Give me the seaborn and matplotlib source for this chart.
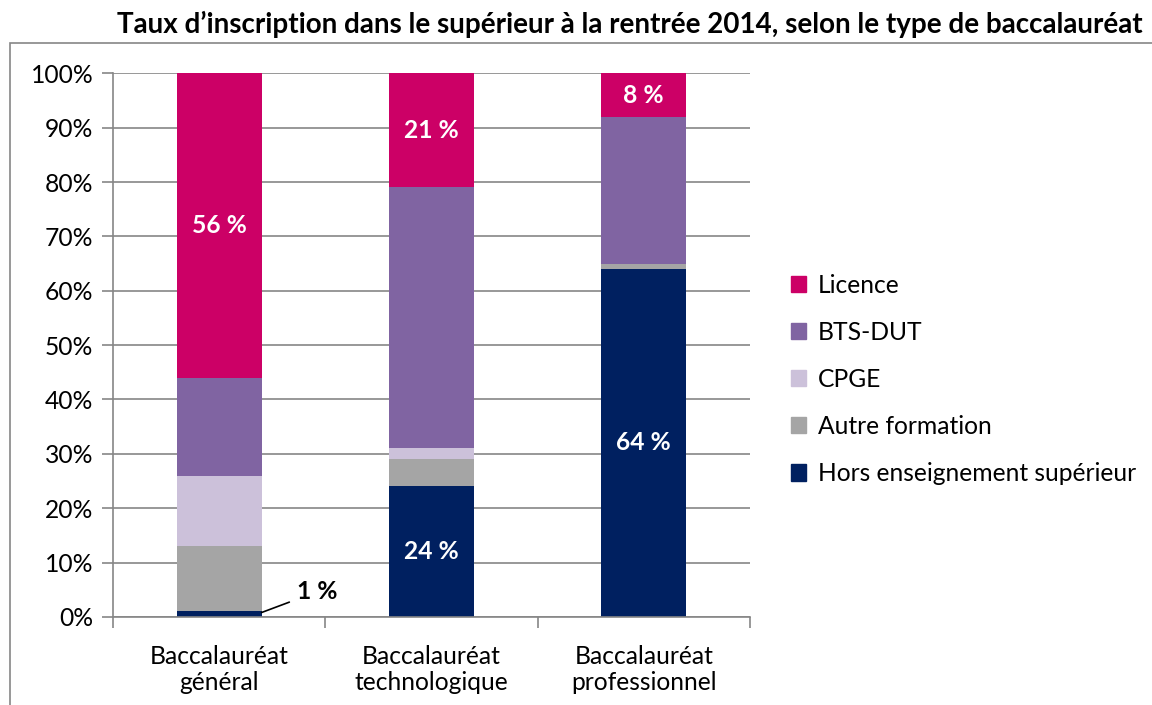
import matplotlib
matplotlib.use("Agg")
import matplotlib.pyplot as plt
import matplotlib.patches as mpatches
import pandas as pd
import seaborn as sns

# Data (percent)
categories = ["Baccalauréat\ngénéral", "Baccalauréat\ntechnologique", "Baccalauréat\nprofessionnel"]
series = ["Hors enseignement supérieur", "Autre formation", "CPGE", "BTS-DUT", "Licence"]
hors = [1, 24, 64]
autre = [12, 5, 1]
cpge = [13, 2, 0]
bts = [18, 48, 27]
licence = [56, 21, 8]
colors = ["#002060", "#A5A5A5", "#CCC1DA", "#8064A2", "#CC0066"]

values = [hors, autre, cpge, bts, licence]

sns.set_style("white")
plt.rcParams["font.family"] = ["Lato", "DejaVu Sans"]
plt.rcParams["text.color"] = "black"
plt.rcParams["xtick.color"] = "black"
plt.rcParams["ytick.color"] = "black"
FS = 17.7

fig = plt.figure(figsize=(11.52, 7.05), dpi=100)
ax = fig.add_axes([0.098, 0.125, 0.553, 0.771])

bottom = [0, 0, 0]
for name, vals, col in zip(series, values, colors):
    df = pd.DataFrame({"cat": categories, "val": vals})
    sns.barplot(data=df, x="cat", y="val", bottom=bottom, color=col, width=0.4,
                ax=ax, edgecolor="none", linewidth=0, saturation=1)
    bottom = [b + v for b, v in zip(bottom, vals)]

# Labels inside bars
def centre(i, layer):
    low = sum(v[i] for v in values[:layer])
    return low + values[layer][i] / 2

lab_kw = dict(ha="center", va="center", color="white", fontsize=FS, fontweight="bold")
ax.text(0, centre(0, 4), f"{licence[0]} %", **lab_kw)
ax.text(1, centre(1, 4), f"{licence[1]} %", **lab_kw)
ax.text(2, centre(2, 4), f"{licence[2]} %", **lab_kw)
ax.text(1, centre(1, 0), f"{hors[1]} %", **lab_kw)
ax.text(2, centre(2, 0), f"{hors[2]} %", **lab_kw)
ax.annotate(f"{hors[0]} %", xy=(0.2, hors[0] / 2 + 0.3), xytext=(0.46, 4.6),
            ha="center", va="center", fontsize=FS, fontweight="bold", color="black",
            arrowprops=dict(arrowstyle="-", color="black", lw=1.2, shrinkA=3, shrinkB=0))

ax.set_ylim(0, 100)
ax.set_xlim(-0.5, 2.5)
ax.set_yticks(range(0, 101, 10))
ax.set_yticklabels([f"{t}%" for t in range(0, 101, 10)], fontsize=FS)
ax.yaxis.grid(True, color="#868686", linewidth=1.2)
ax.set_axisbelow(True)
ax.set_xlabel("")
ax.set_ylabel("")
ax.set_xticks([0, 1, 2])
ax.set_xticklabels(categories, fontsize=FS)
ax.tick_params(axis="x", length=0, pad=20)
ax.tick_params(axis="y", length=8, color="#868686", labelcolor="black", width=1.2, left=True, pad=6)
# category boundary ticks on x axis
ax.set_xticks([-0.5, 0.5, 1.5, 2.5], minor=True)
ax.tick_params(axis="x", which="minor", length=8, color="#868686", width=1.2, bottom=True)
for s in ["top", "right"]:
    ax.spines[s].set_visible(False)
for s in ["left", "bottom"]:
    ax.spines[s].set_color("#868686")
    ax.spines[s].set_linewidth(1.2)

# Legend (top to bottom: Licence ... Hors)
handles = [mpatches.Patch(color=c, label=n) for n, c in zip(series, colors)][::-1]
fig.legend(handles=handles, loc="center left", bbox_to_anchor=(0.667, 0.462), frameon=False,
           fontsize=FS, handlelength=0.65, handleheight=0.65, labelspacing=0.98, handletextpad=0.45,
           labelcolor="black")

fig.text(0.547, 0.965, "Taux d’inscription dans le supérieur à la rentrée 2014, selon le type de baccalauréat",
         ha="center", va="center", fontsize=20, fontweight="bold")

# outer chart frame
fig.patches.append(mpatches.Rectangle((0.0087, -0.05), 1.1, 0.989, transform=fig.transFigure,
                                      fill=False, edgecolor="#868686", linewidth=1.2))

fig.savefig("out.png", dpi=100)
